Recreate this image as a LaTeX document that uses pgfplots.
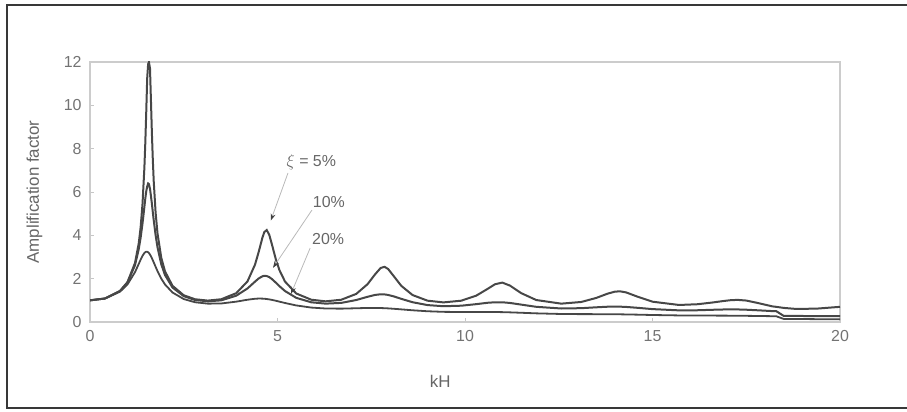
\documentclass[border=0pt]{standalone}
\usepackage{pgfplots}
\pgfplotsset{compat=1.18}
\usepackage{pgfplotstable}
\usepackage{fontspec}
\setmainfont{Liberation Sans}
\usetikzlibrary{arrows.meta}

\pgfplotstableread{
x y5 y10 y20
0 1 1 1
0.4 1.085 1.085 1.082
0.8 1.433 1.426 1.399
1.0 1.843 1.820 1.736
1.2 2.723 2.620 2.301
1.3 3.632 3.362 2.681
1.35 4.364 3.887 2.876
1.4 5.440 4.541 3.053
1.45 7.111 5.304 3.184
1.475 8.281 5.700 3.220
1.5 9.700 6.030 3.244
1.525 11.24 6.250 3.240
1.55 11.90 6.394 3.219
1.5708 12.0 6.366 3.183
1.6 11.70 6.148 3.112
1.625 10.24 5.820 3.035
1.65 8.748 5.465 2.947
1.675 7.488 5.070 2.850
1.7 6.479 4.688 2.750
1.75 5.036 4.003 2.546
1.8 4.092 3.450 2.349
1.9 2.968 2.667 2.004
2.0 2.337 2.166 1.732
2.2 1.670 1.592 1.361
2.5 1.233 1.192 1.059
2.8 1.050 1.017 0.912
3.1416 0.988 0.954 0.847
3.5 1.050 1.000 0.855
3.9 1.330 1.214 0.939
4.2 1.875 1.549 1.028
4.4 2.646 1.863 1.073
4.5 3.243 2.012 1.082
4.6 3.908 2.112 1.079
4.65 4.154 2.131 1.073
4.7124 4.244 2.122 1.061
4.78 4.026 2.072 1.043
4.85 3.589 1.984 1.021
4.95 2.928 1.825 0.983
5.05 2.401 1.656 0.941
5.2 1.866 1.429 0.877
5.5 1.316 1.115 0.764
5.9 1.028 0.910 0.666
6.2832 0.954 0.847 0.623
6.7 1.027 0.882 0.616
7.1 1.297 1.014 0.634
7.4 1.743 1.163 0.648
7.6 2.195 1.249 0.649
7.75 2.493 1.279 0.644
7.854 2.547 1.273 0.637
7.95 2.446 1.249 0.628
8.1 2.116 1.182 0.610
8.3 1.671 1.069 0.583
8.6 1.245 0.913 0.541
9.0 0.984 0.781 0.496
9.4248 0.905 0.728 0.469
9.9 0.983 0.752 0.461
10.3 1.216 0.824 0.464
10.6 1.526 0.887 0.464
10.8 1.742 0.911 0.461
10.9956 1.819 0.910 0.455
11.2 1.679 0.879 0.445
11.5 1.331 0.802 0.426
11.9 1.014 0.701 0.399
12.5664 0.847 0.623 0.370
13.1 0.924 0.638 0.363
13.5 1.111 0.678 0.362
13.8 1.307 0.705 0.360
14.0 1.402 0.711 0.357
14.1372 1.415 0.707 0.354
14.3 1.364 0.695 0.349
14.6 1.169 0.655 0.339
15.0 0.937 0.595 0.323
15.708 0.786 0.537 0.303
16.2 0.82 0.542 0.298
16.6 0.90 0.564 0.296
16.9 0.97 0.578 0.294
17.1 1.01 0.582 0.292
17.2788 1.02 0.579 0.289
17.5 0.99 0.567 0.285
17.8 0.88 0.541 0.278
18.2 0.72 0.503 0.268
18.3 0.70 0.500 0.265
18.5 0.65 0.28 0.14
18.85 0.60 0.28 0.14
19.4 0.62 0.27 0.13
20 0.70 0.27 0.13
}\datatable

\begin{document}
\begin{tikzpicture}
\useasboundingbox (0,0) rectangle (907bp,412bp);
\draw[black!78, line width=1.5bp] (910bp,407bp) -- (7bp,407bp) -- (7bp,4bp) -- (910bp,4bp);
\begin{axis}[
  at={(90bp,90bp)}, anchor=south west,
  width=750bp, height=260bp, scale only axis,
  xmin=0, xmax=20, ymin=0, ymax=12,
  xtick={0,5,10,15,20}, ytick={0,2,4,6,8,10,12},
  axis line style={gray!40, line width=1.2bp},
  tick style={gray!45, line width=0.8bp},
  tick align=inside, major tick length=4bp,
  xtick pos=bottom, ytick pos=left,
  /pgf/number format/assume math mode=true,
  ticklabel style={font=\fontsize{16}{16}\selectfont, text=black!55},
  xticklabel style={yshift=-5bp},
  yticklabel style={xshift=-5bp},
  xlabel={kH},
  ylabel={Amplification factor},
  label style={font=\fontsize{17}{17}\selectfont, text=black!60},
  xlabel style={at={(axis description cs:0.467,0)}, anchor=north, yshift=-50bp},
  ylabel style={at={(axis description cs:0,0.5)}, anchor=south, yshift=44bp},
  clip=true,
]
\addplot[black!72, line width=2bp] table[x=x,y=y5] {\datatable};
\addplot[black!72, line width=2bp] table[x=x,y=y10] {\datatable};
\addplot[black!72, line width=1.8bp] table[x=x,y=y20] {\datatable};

\node[font=\fontsize{16}{16}\selectfont, text=black!60, anchor=west] at (axis cs:5.15,7.38) {$\xi$ = 5\%};
\node[font=\fontsize{16}{16}\selectfont, text=black!60] at (axis cs:6.37,5.54) {10\%};
\node[font=\fontsize{16}{16}\selectfont, text=black!60] at (axis cs:6.35,3.83) {20\%};
\draw[gray!55, line width=0.8bp, -{Stealth[length=7bp,width=5bp,black!75]}] (axis cs:5.28,6.88) -- (axis cs:4.82,4.68);
\draw[gray!55, line width=0.8bp, -{Stealth[length=7bp,width=5bp,black!75]}] (axis cs:5.92,5.17) -- (axis cs:4.88,2.50);
\draw[gray!55, line width=0.8bp, -{Stealth[length=7bp,width=5bp,black!75]}] (axis cs:5.87,3.41) -- (axis cs:5.36,1.30);
\end{axis}
\end{tikzpicture}
\end{document}
